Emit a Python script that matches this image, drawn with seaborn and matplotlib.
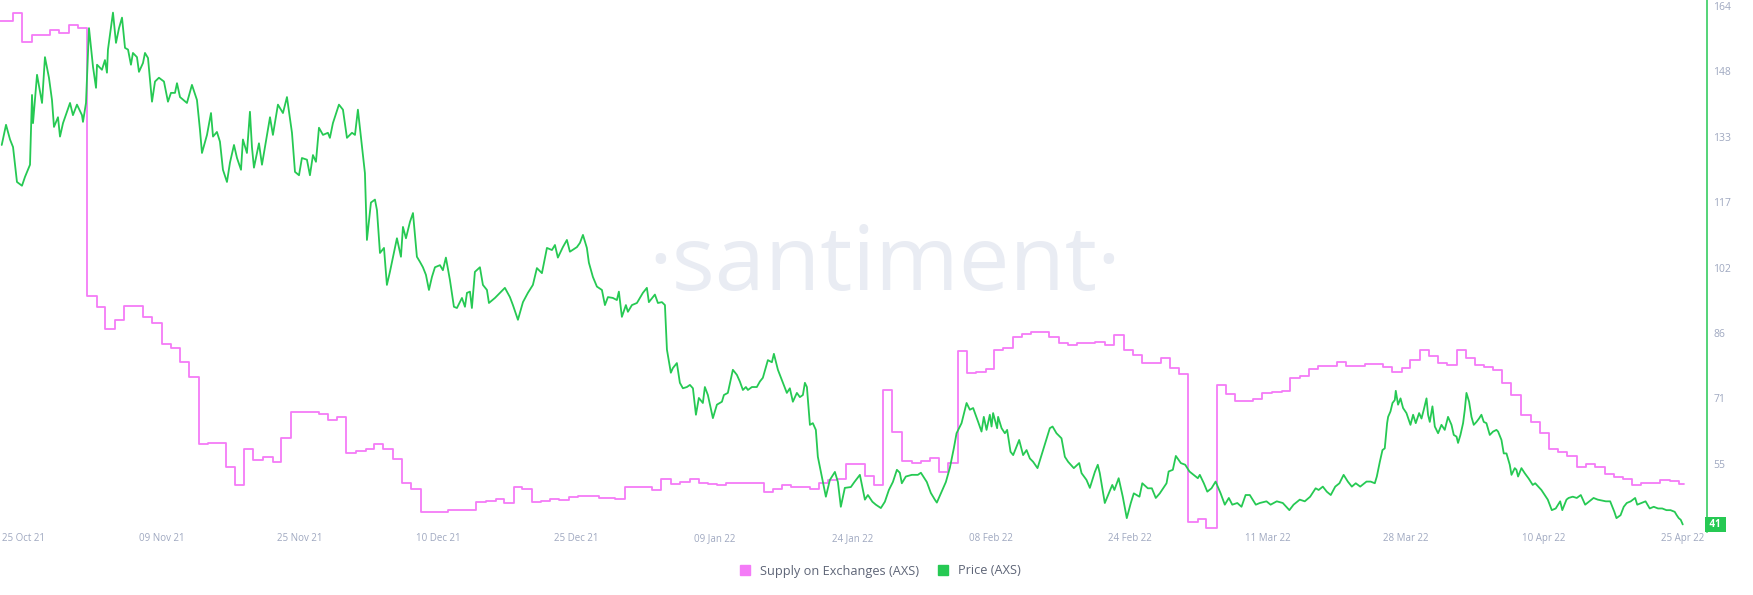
import numpy as np
import matplotlib
matplotlib.use('Agg')
import matplotlib.pyplot as plt
import matplotlib.transforms as mtransforms
from matplotlib.lines import Line2D
import seaborn as sns

# days counted from 22 Oct 2021
supply_day = [0, 1.46, 2.38, 3.48, 5.48, 6.50, 7.57, 8.52, 9.51, 10.60, 11.55, 12.61, 13.63, 15.65, 16.70,
              17.73, 18.72, 19.74, 20.76, 21.79, 22.81, 24.78, 25.77, 26.81, 27.80, 28.87, 29.89, 30.87, 31.88,
              33.00, 34.98, 36.00, 36.98, 37.94, 39.04, 40.09, 41.04, 42.00, 43.09, 44.06, 45.11, 46.16, 49.18,
              52.16, 53.29, 54.34, 55.31, 56.32, 57.28, 58.33, 59.38, 60.34, 61.35, 62.39, 63.38, 65.68, 67.47,
              68.53, 71.46, 72.50, 73.55, 74.61, 75.66, 76.61, 77.63, 78.58, 79.64, 83.75, 84.76, 85.72, 86.77,
              88.78, 89.84, 90.84, 91.81, 92.82, 94.85, 95.83, 96.85, 97.77, 98.87, 99.97, 100.95, 101.97, 102.96,
              103.98, 105.01, 106.00, 107.02, 108.08, 109.03, 110.01, 111.04, 112.06, 113.12, 115.05, 116.12,
              117.14, 118.13, 120.07, 121.16, 122.18, 123.28, 124.20, 125.22, 127.27, 128.29, 129.31, 130.30,
              131.36, 132.24, 133.41, 134.43, 135.49, 137.42, 138.45, 139.51, 140.54, 141.52, 142.54, 143.56,
              144.55, 146.57, 147.66, 149.67, 151.68, 152.67, 153.70, 154.68, 155.70, 156.72, 157.71, 158.69,
              159.73, 160.75, 161.73, 162.72, 163.74, 164.77, 165.76, 166.85, 167.95, 168.86, 169.88, 170.87,
              171.90, 172.95, 173.90, 174.97, 175.99, 176.97, 177.99, 179.02, 180.01, 181.11, 182.09, 183.11,
              184.13, 184.65]
# supply on exchanges, million AXS (left axis is hidden in the original)
supply_m = [13.853, 13.927, 13.643, 13.71, 13.76, 13.733, 13.81, 13.777, 11.10, 10.993, 10.767, 10.86, 11.00, 10.887, 10.833,
            10.62, 10.577, 10.443, 10.287, 9.62, 9.633, 9.393, 9.21, 9.567, 9.46, 9.487, 9.44, 9.677, 9.943,
            9.937, 9.92, 9.86, 9.893, 9.533, 9.553, 9.57, 9.623, 9.567, 9.467, 9.233, 9.167, 8.937, 8.96,
            9.037, 9.053, 9.067, 9.033, 9.193, 9.173, 9.043, 9.053, 9.067, 9.057, 9.087, 9.097, 9.083, 9.07,
            9.193, 9.16, 9.267, 9.22, 9.243, 9.267, 9.233, 9.22, 9.21, 9.233, 9.137, 9.167, 9.21, 9.193,
            9.167, 9.233, 9.257, 9.267, 9.423, 9.30, 9.21, 10.16, 9.743, 9.45, 9.427, 9.453, 9.477, 9.343,
            9.427, 10.553, 10.327, 10.343, 10.367, 10.56, 10.577, 10.693, 10.72, 10.743, 10.693, 10.633,
            10.61, 10.627, 10.643, 10.61, 10.71, 10.56, 10.51, 10.43, 10.477, 10.377, 10.32, 8.84,
            8.87, 8.78, 10.21, 10.117, 10.05, 10.07, 10.127, 10.137, 10.153, 10.277, 10.30, 10.37,
            10.403, 10.437, 10.40, 10.42, 10.393, 10.343, 10.377, 10.46, 10.56, 10.503, 10.427, 10.41,
            10.56, 10.477, 10.41, 10.393, 10.36, 10.233, 10.11, 9.91, 9.843, 9.727, 9.567, 9.543,
            9.50, 9.393, 9.417, 9.387, 9.32, 9.287, 9.267, 9.21, 9.227, 9.233, 9.26, 9.25,
            9.217, 9.217]

price_day = [0.19, 0.66, 1.10, 1.43, 1.86, 2.41, 2.74, 3.29, 3.51, 3.62, 4.06, 4.61, 4.93, 5.37, 5.70, 5.92,
             6.36, 6.58, 6.91, 7.68, 8.00, 8.44, 8.99, 9.10, 9.43, 9.76, 10.20, 10.53, 10.64, 11.18, 11.51, 11.73,
             11.84, 12.39, 12.72, 13.05, 13.38, 13.71, 14.04, 14.36, 14.58, 15.02, 15.24, 15.68, 15.90, 16.23,
             16.67, 17.00, 17.43, 17.98, 18.42, 18.75, 19.19, 19.41, 19.74, 20.50, 21.05, 21.60, 21.93, 22.15,
             22.70, 23.14, 23.36, 23.79, 24.12, 24.45, 24.89, 25.22, 25.66, 25.99, 26.43, 26.64, 27.08, 27.41,
             27.63, 27.85, 28.40, 28.73, 29.06, 29.61, 29.93, 30.48, 31.03, 31.47, 32.02, 32.35, 32.79, 33.11,
             33.66, 33.99, 34.32, 34.65, 34.98, 35.42, 35.96, 36.18, 36.51, 37.17, 37.61, 38.05, 38.60, 38.93,
             39.25, 39.80, 40.02, 40.24, 40.68, 41.12, 41.34, 41.67, 42.11, 42.43, 42.76, 43.31, 43.53, 43.97,
             44.19, 44.52, 44.96, 45.29, 45.72, 46.05, 46.38, 46.71, 47.04, 47.37, 47.70, 48.25, 48.57, 48.90,
             49.34, 49.78, 50.11, 50.66, 50.99, 51.21, 51.54, 51.75, 52.08, 52.63, 52.96, 53.40, 53.62, 54.28,
             54.82, 55.37, 55.92, 56.25, 56.80, 57.35, 57.89, 58.44, 58.88, 59.43, 59.98, 60.53, 60.86, 61.18,
             61.73, 62.17, 62.50, 63.27, 63.60, 63.93, 64.36, 64.58, 65.02, 65.46, 66.01, 66.34, 66.67, 67.21,
             67.65, 67.87, 68.20, 68.64, 68.86, 69.30, 69.85, 70.18, 70.50, 70.94, 71.16, 71.82, 72.15, 72.59,
             72.92, 73.14, 73.57, 73.79, 74.23, 74.56, 74.89, 75.33, 75.66, 75.99, 76.32, 76.64, 77.08, 77.30,
             77.63, 78.18, 78.62, 79.17, 79.39, 79.82, 80.37, 80.81, 81.14, 81.47, 81.80, 82.02, 82.46, 83.00,
             83.33, 83.66, 84.21, 84.65, 84.87, 85.31, 85.86, 86.29, 86.62, 86.95, 87.39, 87.72, 88.05, 88.27,
             88.49, 88.82, 89.14, 89.47, 89.69, 89.91, 90.57, 91.01, 91.56, 91.89, 92.21, 92.65, 93.31, 93.70,
             94.30, 94.85, 95.18, 95.67, 96.05, 96.60, 97.04, 97.48, 97.92, 98.36, 98.68, 98.90, 99.34, 100.00,
             100.66, 100.99, 101.37, 101.64, 102.08, 102.52, 102.74, 103.34, 103.73, 104.17, 104.61, 104.90,
             105.45, 106.00, 106.36, 106.72, 107.27, 107.64, 107.89, 108.19, 108.55, 108.74, 108.91, 109.35,
             109.46, 109.84, 110.20, 110.45, 110.82, 111.11, 111.77, 112.20, 112.58, 112.94, 113.30, 113.78,
             114.22, 114.58, 115.13, 115.43, 115.86, 116.41, 116.78, 117.14, 117.76, 118.35, 118.61, 119.15,
             119.52, 120.07, 120.39, 120.61, 121.16, 121.52, 121.98, 122.21, 122.68, 123.13, 123.57, 124.01,
             124.34, 124.96, 125.27, 125.88, 126.32, 126.75, 127.19, 127.93, 128.16, 128.62, 128.95, 129.50,
             129.98, 130.44, 130.90, 131.36, 131.58, 132.02, 132.40, 132.86, 133.31, 133.86, 134.32, 134.76,
             135.14, 135.69, 136.15, 136.60, 137.06, 137.72, 138.16, 138.89, 139.34, 140.02, 140.68, 141.40,
             141.86, 142.54, 143.09, 143.68, 144.28, 144.61, 145.07, 145.50, 145.94, 146.43, 146.89, 147.35,
             147.81, 148.25, 148.68, 149.17, 149.86, 150.31, 150.77, 150.99, 151.32, 151.61, 151.86, 152.12,
             152.23, 152.49, 152.71, 152.96, 153.07, 153.32, 153.59, 153.87, 154.24, 154.68, 154.97, 155.26,
             155.63, 155.89, 156.14, 156.44, 156.61, 156.80, 157.09, 157.35, 157.71, 158.08, 158.44, 158.80,
             159.18, 159.43, 159.73, 159.90, 160.16, 160.45, 160.64, 160.82, 161.11, 161.37, 161.62, 161.92,
             162.20, 162.46, 162.72, 163.01, 163.38, 163.74, 164.11, 164.29, 164.66, 164.91, 165.21, 165.57,
             165.76, 166.12, 166.30, 166.48, 166.85, 167.21, 167.65, 168.09, 168.36, 169.04, 169.74, 170.18,
             170.61, 171.10, 171.33, 171.79, 172.02, 172.48, 172.92, 173.36, 173.84, 174.30, 174.76, 175.22,
             176.10, 176.58, 177.04, 177.27, 177.72, 178.07, 178.40, 178.84, 179.32, 179.55, 180.01, 180.46,
             180.92, 181.36, 181.83, 182.29, 182.75, 183.20, 183.66, 183.88, 184.10, 184.32, 184.54]
price_usd = [130.9, 135.7, 132.2, 130.4, 122.1, 121.2, 123.3, 126.2, 142.8, 136.1, 147.6, 140.9, 151.8, 146.9, 141.6, 135.2,
             137.5, 132.9, 136.1, 140.9, 138.0, 140.5, 138.0, 136.4, 140.9, 158.7, 149.5, 144.5, 150.0, 148.8, 151.1, 148.1,
             153.6, 162.4, 155.2, 158.7, 161.2, 154.0, 153.6, 150.0, 152.8, 151.8, 148.3, 150.4, 152.8, 151.6,
             141.2, 146.0, 146.9, 146.0, 141.2, 143.3, 143.3, 145.6, 142.3, 140.9, 145.2, 141.6, 134.5, 129.0,
             133.3, 138.5, 132.9, 134.0, 131.7, 125.0, 122.1, 126.7, 130.9, 127.8, 125.0, 132.2, 129.0, 138.8,
             130.4, 125.5, 131.3, 126.2, 130.4, 137.5, 133.3, 140.5, 138.5, 142.3, 133.8, 124.5, 123.7, 127.8,
             127.4, 123.7, 128.5, 126.9, 135.0, 133.3, 133.8, 132.6, 136.1, 140.5, 139.3, 132.6, 133.8, 133.3,
             139.3, 128.5, 124.2, 108.3, 117.2, 117.9, 115.4, 105.2, 106.4, 97.6, 100.7, 106.4, 108.7, 104.3,
             111.4, 108.7, 112.6, 114.7, 104.3, 103.1, 101.8, 100.0, 96.4, 99.5, 101.8, 102.3, 101.1, 104.1,
             98.8, 92.4, 92.1, 94.5, 92.4, 95.7, 96.0, 92.1, 100.7, 101.8, 97.6, 96.4, 93.3, 94.5,
             95.7, 96.9, 94.7, 92.8, 89.3, 93.5, 95.7, 97.6, 101.6, 100.4, 106.4, 105.9, 107.1, 104.1,
             106.6, 108.3, 105.5, 106.6, 107.6, 109.5, 106.4, 102.9, 99.5, 97.2, 96.4, 92.8, 94.7, 94.5,
             94.0, 96.0, 90.0, 92.8, 91.2, 92.8, 93.3, 94.5, 95.7, 96.9, 93.5, 95.3, 93.3, 93.5,
             92.8, 82.2, 76.7, 77.8, 79.0, 74.3, 73.0, 73.3, 73.8, 73.0, 66.7, 70.7, 69.5, 73.3,
             71.4, 65.9, 69.1, 69.8, 71.4, 71.9, 77.4, 76.2, 74.6, 72.6, 73.3, 72.6, 73.3, 73.3,
             74.6, 75.5, 79.7, 79.2, 81.2, 77.4, 74.3, 71.9, 73.0, 69.8, 71.9, 70.9, 71.4, 74.3,
             73.3, 64.3, 64.7, 63.1, 56.7, 54.3, 47.2, 51.2, 53.1, 50.7, 44.8, 49.3, 49.5, 50.7,
             52.4, 46.5, 47.6, 46.0, 45.3, 44.5, 46.0, 48.8, 50.7, 53.6, 52.9, 50.4, 52.0, 52.4,
             52.4, 52.9, 51.6, 50.7, 48.1, 46.5, 45.8, 48.8, 50.7, 54.1, 58.8, 62.3,
             64.7, 69.5, 67.9, 68.3, 65.0, 62.7, 66.2, 63.1, 66.7, 63.9, 67.1, 63.5,
             66.2, 63.5, 62.3, 63.1, 57.9, 57.1, 60.7, 57.1, 58.3, 56.3, 55.5, 54.0,
             57.1, 59.6, 63.5, 63.9, 62.3, 61.1, 56.7, 55.5, 54.0, 55.2, 52.8, 51.2,
             49.3, 53.1, 54.8, 52.8, 45.7, 47.6, 50.0, 48.8, 51.6, 47.2, 42.1, 45.7,
             48.0, 47.2, 50.4, 49.2, 49.2, 46.9, 48.0, 50.4, 53.2, 53.6, 56.9, 55.2,
             54.8, 53.2, 52.4, 51.6, 52.4, 50.4, 48.4, 49.2, 50.8, 48.0, 45.3, 46.9,
             45.3, 45.7, 44.8, 47.6, 47.6, 45.3, 45.7, 46.1, 45.3, 46.1, 45.7, 44.0,
             45.3, 46.5, 46.1, 47.2, 49.2, 48.8, 49.6, 48.4, 47.6, 49.6, 50.4, 52.4,
             50.8, 49.6, 50.4, 49.6, 50.8, 50.8, 50.4, 52.0, 55.5, 58.3, 58.7, 64.7,
             66.2, 67.5, 69.5, 70.2, 72.4, 69.1, 70.6, 68.3, 67.1, 64.3, 66.7, 64.7,
             67.1, 65.8, 67.9, 70.6, 66.7, 65.0, 68.7, 63.9, 62.3, 64.3, 63.1, 66.2,
             64.3, 61.9, 61.5, 60.0, 61.9, 64.7, 67.9, 71.9, 69.8, 66.2, 64.3, 65.0,
             65.8, 66.7, 65.0, 64.7, 61.9, 62.7, 63.1, 62.7, 60.7, 57.5, 57.5, 54.8,
             52.4, 54.0, 53.6, 52.0, 54.0, 52.8, 51.5, 50.0, 50.4, 48.8, 46.5, 44.0,
             44.4, 46.1, 44.0, 46.5, 46.9, 47.2, 46.9, 47.6, 45.3, 46.1, 46.9, 46.5,
             46.1, 46.1, 43.6, 42.1, 42.8, 44.8, 45.7, 46.1, 46.9, 45.3, 45.7, 46.1,
             44.4, 44.8, 44.4, 44.4, 44.0, 44.0, 43.6, 42.8, 42.1, 41.7, 40.6]

date_labels = ['25 Oct 21', '09 Nov 21', '25 Nov 21', '10 Dec 21', '25 Dec 21', '09 Jan 22', '24 Jan 22',
               '08 Feb 22', '24 Feb 22', '11 Mar 22', '28 Mar 22', '10 Apr 22', '25 Apr 22']
price_tick_labels = ['55', '71', '86', '102', '117', '133', '148', '164']
last_price_label = '41'

pink = '#F47BF7'
green = '#26C953'
tick_color = '#9FA8C0'

sns.set_style('white')
plt.rcParams['font.family'] = ['Open Sans', 'DejaVu Sans']

W, H = 1753, 595
fig = plt.figure(figsize=(W / 100, H / 100), dpi=100)
ax = fig.add_axes([0, 63 / H, 1707 / W, 532 / H])
ax2 = ax.twinx()

# watermark
ax.text(885 / W, 1 - 290 / H, '·santiment·', transform=fig.transFigure, ha='center', va='baseline',
        fontsize=65, color='#E9ECF3', zorder=0)

sns.lineplot(x=supply_day, y=supply_m, ax=ax, color=pink, linewidth=1.3, drawstyle='steps-post', zorder=2)
sns.lineplot(x=price_day, y=price_usd, ax=ax2, color=green, linewidth=1.3, zorder=3)

ax.set_xlim(0, 187.2)
ax.set_ylim(8.74, 14.06)
ax2.set_ylim(38.8, 165.4)
ax.set_yticks([])
ax.set_xlabel('')
ax.set_ylabel('')
ax2.set_ylabel('')

ax.set_xticks(np.linspace(2.58, 184.5, len(date_labels)))
ax.set_xticklabels(date_labels)
ax.tick_params(axis='x', length=0, pad=1, labelsize=7, labelcolor=tick_color)

ax2.set_yticks(np.linspace(55, 164, len(price_tick_labels)))
ax2.set_yticklabels(price_tick_labels)
ax2.tick_params(axis='y', length=0, pad=4.5, labelsize=7.5, labelcolor=tick_color)

for a in (ax, ax2):
    for s in a.spines.values():
        s.set_visible(False)
ax2.spines['right'].set_visible(True)
ax2.spines['right'].set_color(green)
ax2.spines['right'].set_linewidth(1.1)

# current price marker on the right axis
trans = mtransforms.blended_transform_factory(ax2.transAxes, ax2.transData)
ax2.text(1.0, price_usd[-1], ' ' + last_price_label + ' ', transform=trans, ha='left', va='center',
         fontsize=7, color='white', fontweight='bold',
         bbox=dict(boxstyle='square,pad=0.25', fc=green, ec='none'))

handles = [Line2D([], [], marker='s', ls='', color=pink, markersize=7, label='Supply on Exchanges (AXS)'),
           Line2D([], [], marker='s', ls='', color=green, markersize=7, label='Price (AXS)')]
fig.legend(handles=handles, loc='center', bbox_to_anchor=(0.5, 1 - 571 / H), ncol=2, frameon=False,
           fontsize=9.2, handletextpad=0.2, columnspacing=0.8, labelcolor='#5E6577')

fig.savefig('out.png', dpi=100)
